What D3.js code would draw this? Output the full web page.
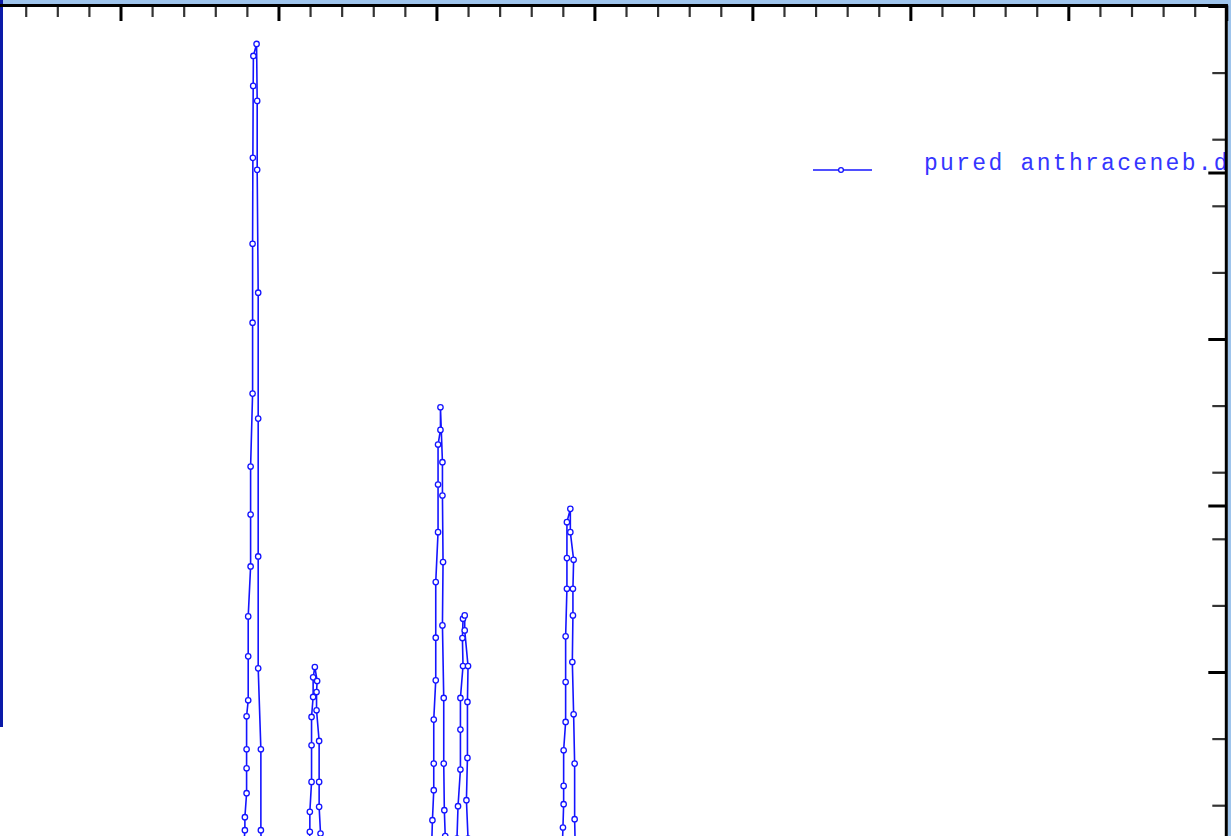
<!DOCTYPE html>
<html>
<head>
<meta charset="utf-8">
<script src="https://cdn.jsdelivr.net/npm/d3@7"></script>
<style>
  html, body { margin: 0; padding: 0; background: #ffffff; overflow: hidden; }
  svg { display: block; }
</style>
</head>
<body>
<svg id="chart" width="1231" height="836"></svg>
<script>
// ---- data ----
const seriesName = "pured anthraceneb.dat";
const twoTheta = [
  6.0, 10.0, 13.874,
  13.937, 13.937, 13.991, 13.991, 13.991, 13.991, 14.042, 14.042, 14.042,
  14.118, 14.118, 14.118, 14.181, 14.181, 14.181, 14.19, 14.2, 14.206, 14.307,
  14.326, 14.326, 14.358, 14.358, 14.358, 14.358, 14.443, 14.443, 14.475,
  15.2, 15.96,
  15.993, 15.993, 16.047, 16.047, 16.047, 16.097, 16.097, 16.151,
  16.224, 16.205, 16.205, 16.287, 16.287, 16.287, 16.331, 16.36,
  18.0, 19.84,
  19.873, 19.915, 19.915, 19.915, 19.978, 19.978, 19.978, 20.051, 20.051, 20.051,
  20.127, 20.127,
  20.19, 20.19, 20.209, 20.19, 20.231, 20.231, 20.25, 20.278, 20.30,
  20.50, 20.65,
  20.683, 20.759, 20.759, 20.759, 20.841, 20.822, 20.841, 20.895,
  20.895, 21.0, 20.981, 20.981, 20.949, 21.0, 21.02,
  22.5, 23.97,
  24.004, 24.026, 24.026, 24.026, 24.089, 24.089, 24.089, 24.13, 24.13, 24.13, 24.238,
  24.238, 24.342, 24.32, 24.32, 24.301, 24.342, 24.374, 24.374, 24.40,
  30.0, 45.0
];
const intensity = [
  310, 320, 435,
  525, 564, 636, 711, 768, 867, 915, 1047, 1167,
  1317, 1473, 1617, 1836, 2049, 2286, 2544, 2760, 2850, 2886,
  2715, 2508, 2139, 1761, 1347, 1011, 768, 525, 405,
  330, 420,
  520, 580, 670, 780, 865, 925, 984, 1015,
  973, 940, 885, 793, 670, 595, 515, 420,
  340, 450,
  555, 645, 725, 857, 975, 1103, 1270, 1420, 1563, 1683,
  1727, 1795,
  1630, 1530, 1330, 1140, 922, 725, 585, 507, 440,
  380, 500,
  597, 707, 827, 922, 1018, 1102, 1160, 1170,
  1125, 1018, 910, 742, 615, 500, 430,
  330, 430,
  533, 603, 658, 765, 850, 970, 1107, 1250, 1342, 1450, 1490,
  1420, 1337, 1250, 1170, 1030, 873, 725, 558, 440,
  300, 290
];
const xDomain = [10, 45];
const xMinorTicks = d3.range(6, 46, 1);
const xMajorTicks = [10, 15, 20, 25, 30, 35, 40, 45];
const yDomain = [0, 3000];
const yMinorTicks = d3.range(0, 3001, 200);
const yMajorTicks = [0, 500, 1000, 1500, 2000, 2500, 3000];

// ---- layout ----
const W = 1231, H = 836;
const lineColor = "#1414ff";
const svg = d3.select("#chart");

const x = d3.scaleLinear().domain(xDomain).range([120.5, 1226.3]);
const y = d3.scaleLinear().domain(yDomain).range([1005, 6]);

const plotRight = x(45), plotTop = y(3000);

svg.append("defs").append("clipPath").attr("id", "plotClip")
  .append("rect").attr("x", 0).attr("y", plotTop).attr("width", plotRight).attr("height", H);

// frame decorations
svg.append("rect").attr("x", 0).attr("y", 0).attr("width", W).attr("height", 4).attr("fill", "#9ec4ec");
svg.append("rect").attr("x", plotRight + 1.5).attr("y", 0).attr("width", W - plotRight).attr("height", H).attr("fill", "#9ec4ec");
svg.append("rect").attr("x", 0).attr("y", 0).attr("width", 3).attr("height", 727).attr("fill", "#0a1aa8");

const plot = svg.append("g").attr("clip-path", "url(#plotClip)");

const pts = twoTheta.map((t, i) => [t, intensity[i]]);
const line = d3.line().x(d => x(d[0])).y(d => y(d[1]));

plot.append("path").datum(pts)
  .attr("d", line)
  .attr("fill", "none")
  .attr("stroke", lineColor)
  .attr("stroke-width", 1.6);

plot.selectAll("circle.pt").data(pts).enter().append("circle")
  .attr("class", "pt")
  .attr("cx", d => x(d[0])).attr("cy", d => y(d[1]))
  .attr("r", 2.7)
  .attr("fill", "#ffffff")
  .attr("stroke", lineColor)
  .attr("stroke-width", 1.3);

// legend
const lg = plot.append("g");
lg.append("line").attr("x1", 813).attr("x2", 872).attr("y1", 170).attr("y2", 170)
  .attr("stroke", lineColor).attr("stroke-width", 1.6);
lg.append("circle").attr("cx", 841).attr("cy", 170).attr("r", 2.4)
  .attr("fill", "#ffffff").attr("stroke", lineColor).attr("stroke-width", 1.3);
lg.append("text").attr("x", 924).attr("y", 170)
  .attr("font-family", "'Liberation Mono', 'DejaVu Sans Mono', monospace")
  .attr("font-size", 23)
  .attr("letter-spacing", 2.3)
  .attr("fill", "#3535ff")
  .text(seriesName);

// top axis (ticks pointing inward/down)
const topAxisY = plotTop - 0.5;
const gTopMinor = svg.append("g").attr("transform", `translate(0,${topAxisY})`)
  .call(d3.axisBottom(x).tickValues(xMinorTicks.filter(v => !xMajorTicks.includes(v))).tickSize(11.5).tickSizeOuter(0).tickFormat(""));
gTopMinor.select(".domain").remove();
gTopMinor.selectAll(".tick line").attr("stroke", "#333").attr("stroke-width", 2.2);
const gTopMajor = svg.append("g").attr("transform", `translate(0,${topAxisY})`)
  .call(d3.axisBottom(x).tickValues(xMajorTicks).tickSize(15.5).tickSizeOuter(0).tickFormat(""));
gTopMajor.select(".domain").remove();
gTopMajor.selectAll(".tick line").attr("stroke", "#000").attr("stroke-width", 3);

// right axis (ticks pointing inward/left)
const gRightMinor = svg.append("g").attr("transform", `translate(${plotRight},0)`)
  .call(d3.axisLeft(y).tickValues(yMinorTicks.filter(v => !yMajorTicks.includes(v))).tickSize(14).tickSizeOuter(0).tickFormat(""));
gRightMinor.select(".domain").remove();
gRightMinor.selectAll(".tick line").attr("stroke", "#333").attr("stroke-width", 2.2);
const gRightMajor = svg.append("g").attr("transform", `translate(${plotRight},0)`)
  .call(d3.axisLeft(y).tickValues(yMajorTicks).tickSize(18).tickSizeOuter(0).tickFormat(""));
gRightMajor.select(".domain").remove();
gRightMajor.selectAll(".tick line").attr("stroke", "#000").attr("stroke-width", 3);

// axis lines
svg.append("line").attr("x1", 0).attr("x2", plotRight + 1.5).attr("y1", topAxisY).attr("y2", topAxisY)
  .attr("stroke", "#000").attr("stroke-width", 3);
svg.append("line").attr("x1", plotRight).attr("x2", plotRight).attr("y1", topAxisY - 1.5).attr("y2", H)
  .attr("stroke", "#000").attr("stroke-width", 3);
</script>
</body>
</html>
